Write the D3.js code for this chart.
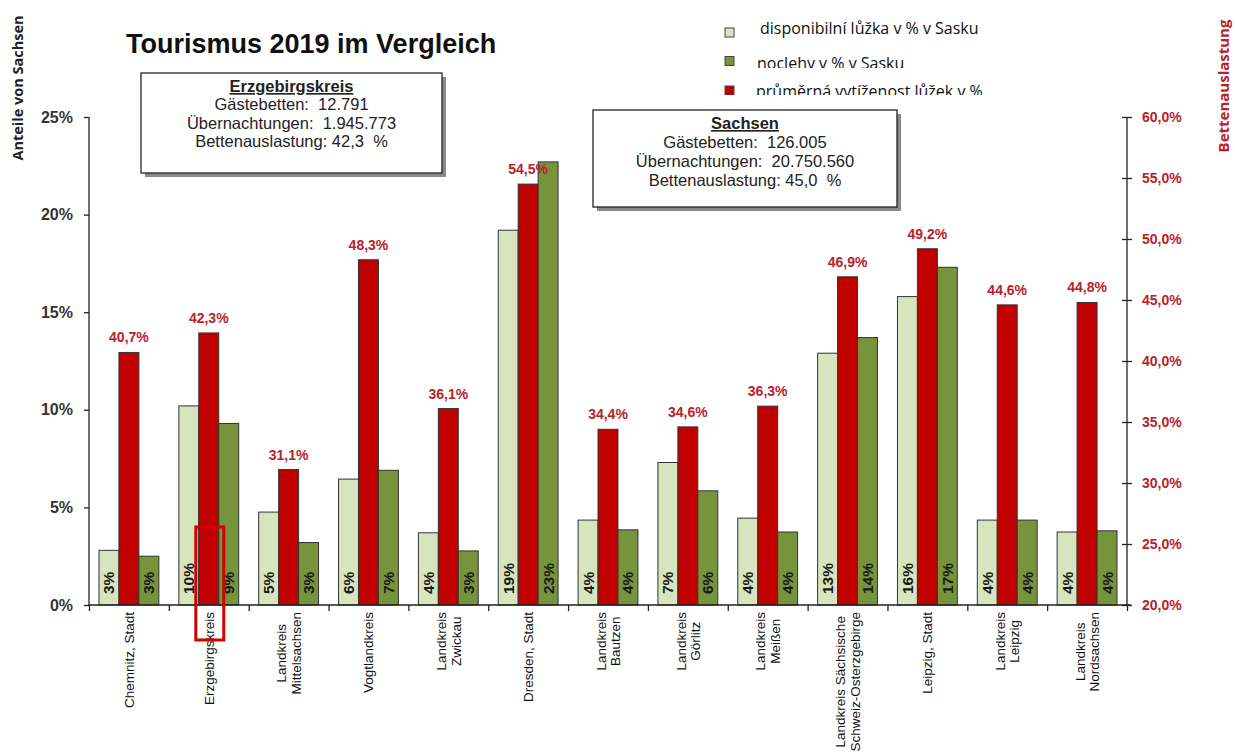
<!DOCTYPE html>
<html>
<head>
<meta charset="utf-8">
<script src="https://cdn.jsdelivr.net/npm/d3@7"></script>
<style>
  body { margin: 0; background: #fff; }
  svg { display: block; }
  text { font-family: Arial, "Liberation Sans", sans-serif; }
  .axis path, .axis line { stroke: #222; stroke-width: 1.3; }
</style>
</head>
<body>
<svg></svg>
<script>
const categories = [
  ["Chemnitz, Stadt"], ["Erzgebirgskreis"], ["Landkreis", "Mittelsachsen"],
  ["Vogtlandkreis"], ["Landkreis", "Zwickau"], ["Dresden, Stadt"],
  ["Landkreis", "Bautzen"], ["Landkreis", "Görlitz"], ["Landkreis", "Meißen"],
  ["Landkreis Sächsische", "Schweiz-Osterzgebirge"], ["Leipzig, Stadt"],
  ["Landkreis", "Leipzig"], ["Landkreis", "Nordsachsen"]
]
const beds = [2.8, 10.2, 4.76, 6.45, 3.7, 19.2, 4.35, 7.3, 4.45, 12.9, 15.8, 4.35, 3.74]
const nights = [2.5, 9.3, 3.2, 6.9, 2.77, 22.7, 3.85, 5.85, 3.74, 13.7, 17.3, 4.35, 3.8]
const occupancy = [40.7, 42.3, 31.1, 48.3, 36.1, 54.5, 34.4, 34.6, 36.3, 46.9, 49.2, 44.6, 44.8]
const leftTicks = [0, 5, 10, 15, 20, 25]
const rightTicks = [20, 25, 30, 35, 40, 45, 50, 55, 60]
const legendLabels = ["disponibilní lůžka v % v Sasku", "noclehy v % v Sasku", "průměrná vytíženost lůžek v %"]
const boxErz = ["Erzgebirgskreis", "Gästebetten:  12.791", "Übernachtungen:  1.945.773", "Bettenauslastung: 42,3  %"]
const boxSachsen = ["Sachsen", "Gästebetten:  126.005", "Übernachtungen:  20.750.560", "Bettenauslastung: 45,0  %"]

const colors = { beds: "#d7e4bd", occ: "#c00000", nights: "#77933c" }
const darkRed = "#b8222a"

const svg = d3.select("svg")
  .attr("width", 1235)
  .attr("height", 752)

const x = d3.scaleBand()
  .domain(d3.range(categories.length))
  .range([89, 1127])

const xInner = d3.scaleBand()
  .domain(["beds", "occ", "nights"])
  .range([10, x.bandwidth() - 10])

const yLeft = d3.scaleLinear().domain([0, 25]).range([605, 117])
const yRight = d3.scaleLinear().domain([20, 60]).range([605, 117])

// title
svg.append("text")
  .attr("x", 126)
  .attr("y", 53)
  .style("font-size", "27px")
  .style("font-weight", "bold")
  .style("fill", "#111")
  .text("Tourismus 2019 im Vergleich")

// axis titles
svg.append("text")
  .attr("transform", "translate(23, 88) rotate(-90)")
  .attr("text-anchor", "middle")
  .style("font-family", "'Open Sans', sans-serif")
  .style("font-size", "14.5px")
  .style("font-weight", "bold")
  .style("fill", "#222")
  .text("Anteile von Sachsen")

svg.append("text")
  .attr("transform", "translate(1229, 86) rotate(-90)")
  .attr("text-anchor", "middle")
  .style("font-family", "'Open Sans', sans-serif")
  .style("font-size", "15px")
  .style("font-weight", "bold")
  .style("fill", darkRed)
  .text("Bettenauslastung")

// bars
const groups = svg.selectAll("g.cat")
  .data(categories)
  .enter()
  .append("g")
  .attr("class", "cat")
  .attr("transform", (d, i) => `translate(${x(i)}, 0)`)

groups.append("rect")
  .attr("x", xInner("beds"))
  .attr("y", (d, i) => yLeft(beds[i]))
  .attr("width", xInner.bandwidth())
  .attr("height", (d, i) => yLeft(0) - yLeft(beds[i]))
  .style("fill", colors.beds)
  .style("stroke", "#333")
  .style("stroke-width", 1)

groups.append("rect")
  .attr("x", xInner("occ"))
  .attr("y", (d, i) => yRight(occupancy[i]))
  .attr("width", xInner.bandwidth())
  .attr("height", (d, i) => yRight(20) - yRight(occupancy[i]))
  .style("fill", colors.occ)
  .style("stroke", "#333")
  .style("stroke-width", 1)

groups.append("rect")
  .attr("x", xInner("nights"))
  .attr("y", (d, i) => yLeft(nights[i]))
  .attr("width", xInner.bandwidth())
  .attr("height", (d, i) => yLeft(0) - yLeft(nights[i]))
  .style("fill", colors.nights)
  .style("stroke", "#333")
  .style("stroke-width", 1)

// values inside bars
const inBar = (key, values) => {
  groups.append("text")
    .attr("transform", (d, i) => `translate(${xInner(key) + xInner.bandwidth() / 2 + 5.5}, 594) rotate(-90)`)
    .style("font-size", "15.5px")
    .style("font-weight", "bold")
    .style("fill", "#1a1a1a")
    .text((d, i) => Math.round(values[i]) + "%")
}
inBar("beds", beds)
inBar("nights", nights)

// occupancy labels
groups.append("text")
  .attr("x", xInner("occ") + xInner.bandwidth() / 2)
  .attr("y", (d, i) => yRight(occupancy[i]) - 10)
  .attr("text-anchor", "middle")
  .style("font-size", "14px")
  .style("font-weight", "bold")
  .style("fill", darkRed)
  .text((d, i) => occupancy[i].toFixed(1).replace(".", ",") + "%")

// axes
const leftAxis = svg.append("g")
  .attr("class", "axis")
  .attr("transform", "translate(89, 0)")
  .call(d3.axisLeft(yLeft).tickValues(leftTicks).tickSize(5).tickPadding(11).tickFormat(d => d + "%"))
leftAxis.select(".domain").attr("d", `M0,${yLeft(0)}V${yLeft(25)}`)
leftAxis.selectAll("text")
  .style("font-size", "16px")
  .style("font-weight", "bold")
  .style("fill", "#333")

const rightAxis = svg.append("g")
  .attr("class", "axis")
  .attr("transform", "translate(1127, 0)")
  .call(d3.axisRight(yRight).tickValues(rightTicks).tickSize(5).tickPadding(10)
    .tickFormat(d => d.toFixed(1).replace(".", ",") + "%"))
rightAxis.select(".domain").attr("d", `M0,${yRight(20)}V${yRight(60)}`)
rightAxis.selectAll(".tick line").attr("x1", -5)
rightAxis.selectAll("text")
  .style("font-size", "14px")
  .style("font-weight", "bold")
  .style("fill", darkRed)

const xTicks = d3.scaleLinear().domain([0, categories.length]).range([89, 1127])
const bottomAxis = svg.append("g")
  .attr("class", "axis")
  .attr("transform", `translate(0, ${yLeft(0)})`)
  .call(d3.axisBottom(xTicks).tickValues(d3.range(categories.length + 1)).tickSize(6).tickFormat(""))
bottomAxis.select(".domain").attr("d", "M89,0H1131")

// category labels
const labels = svg.selectAll("g.xlabel")
  .data(categories)
  .enter()
  .append("g")
  .attr("class", "xlabel")

labels.each(function(lines, i) {
  const g = d3.select(this)
  const texts = g.selectAll("text")
    .data(lines)
    .enter()
    .append("text")
    .attr("text-anchor", "middle")
    .style("font-size", "13.5px")
    .style("fill", "#111")
    .text(d => d)
  const maxLen = d3.max(texts.nodes(), n => n.getComputedTextLength())
  const cx = x(i) + x.bandwidth() / 2
  const n = lines.length
  texts.attr("transform", (d, j) => {
    const off = (j - (n - 1) / 2) * 14.5 + 5
    return `translate(${cx + off}, ${612 + maxLen / 2}) rotate(-90)`
  })
})

// highlight on Erzgebirgskreis
svg.append("rect")
  .attr("x", x(1) + xInner("occ") - 3)
  .attr("y", yLeft(4))
  .attr("width", xInner.bandwidth() + 8)
  .attr("height", 640 - yLeft(4))
  .style("fill", "none")
  .style("stroke", "#d40000")
  .style("stroke-width", 3)

// info boxes
const infoBox = (bx, by, bw, bh, lines, step) => {
  svg.append("rect")
    .attr("x", bx + 4).attr("y", by + 4)
    .attr("width", bw).attr("height", bh)
    .style("fill", "#8a8a8a")
  svg.append("rect")
    .attr("x", bx).attr("y", by)
    .attr("width", bw).attr("height", bh)
    .style("fill", "#fff")
    .style("stroke", "#222")
    .style("stroke-width", 1.3)
  svg.append("g")
    .selectAll("text")
    .data(lines)
    .enter()
    .append("text")
    .attr("x", bx + bw / 2)
    .attr("y", (d, i) => by + 19 + i * step)
    .attr("text-anchor", "middle")
    .style("font-size", "16.5px")
    .style("white-space", "pre")
    .style("font-weight", (d, i) => i === 0 ? "bold" : "normal")
    .style("text-decoration", (d, i) => i === 0 ? "underline" : "none")
    .style("fill", "#222")
    .text(d => d)
}
infoBox(141, 73, 301, 100, boxErz, 18.3)
infoBox(593, 110, 304, 97, boxSachsen, 19)

// legend (lower two texts are clipped like in the original)
const legendColors = [colors.beds, colors.nights, colors.occ]
const legendBase = [34, 69, 97]
const legendClip = [45, 68, 95]
const legendX = [760, 757, 756]
const defs = svg.append("defs")
legendLabels.forEach((t, i) => {
  defs.append("clipPath")
    .attr("id", "lclip" + i)
    .append("rect")
    .attr("x", 700).attr("y", legendBase[i] - 25)
    .attr("width", 330).attr("height", legendClip[i] - legendBase[i] + 25)
})
const legend = svg.selectAll("g.legend")
  .data(legendLabels)
  .enter()
  .append("g")
  .attr("class", "legend")
  .attr("clip-path", (d, i) => `url(#lclip${i})`)

legend.append("rect")
  .attr("x", 725)
  .attr("y", (d, i) => [28, 56.5, 86][i])
  .attr("width", 9)
  .attr("height", 9)
  .style("fill", (d, i) => legendColors[i])
  .style("stroke", "#444")
  .style("stroke-width", 1)

legend.append("text")
  .attr("x", (d, i) => legendX[i])
  .attr("y", (d, i) => legendBase[i])
  .style("font-family", "'Open Sans', sans-serif")
  .style("font-size", "16px")
  .style("fill", "#111")
  .text(d => d)
</script>
</body>
</html>
